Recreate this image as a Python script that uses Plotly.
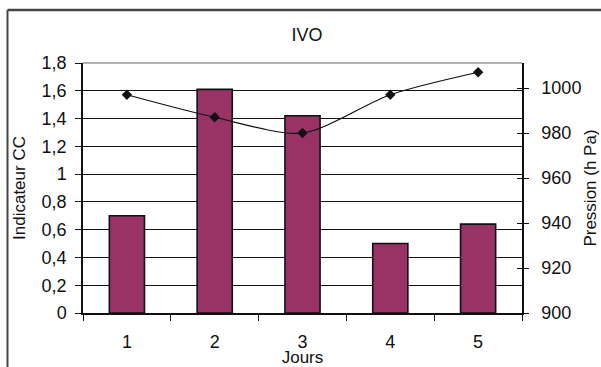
import plotly.graph_objects as go

# Daily CC indicator (bars, left axis) and pressure in hPa (line, right axis)
jours = ["1", "2", "3", "4", "5"]
indicateur_cc = [0.70, 1.61, 1.42, 0.50, 0.64]
pression = [997, 987, 980, 997, 1007]

W, H = 601, 367
L, R, T, B = 83, 79, 63, 54
pw, ph = W - L - R, H - T - B

def px_x(x):
    return (x - L) / pw

def px_y(y):
    return (H - B - y) / ph

font = dict(family="Liberation Sans, Arial, sans-serif", size=18, color="#111")

fig = go.Figure()
fig.add_trace(go.Bar(
    x=jours, y=indicateur_cc, yaxis="y",
    marker=dict(color="#993366", line=dict(color="#111", width=1.6)),
    width=0.4, showlegend=False,
))
fig.add_trace(go.Scatter(
    x=jours, y=pression, yaxis="y2", mode="lines+markers",
    line=dict(color="#111", width=1.2, shape="spline", smoothing=0.8),
    marker=dict(symbol="diamond", size=8, color="#111"),
    showlegend=False,
))
# invisible trace to carry the inner half of the right-hand tick marks
fig.add_trace(go.Scatter(x=jours, y=pression, yaxis="y3", mode="none",
                         showlegend=False, hoverinfo="skip"))

fig.update_layout(
    width=W, height=H,
    margin=dict(l=L, r=R, t=T, b=B, autoexpand=False),
    paper_bgcolor="white", plot_bgcolor="white",
    font=font,
    separators=", ",
    title=dict(text="IVO", x=px_x(307), xref="paper", xanchor="center",
               y=1 - 35 / H, yanchor="middle", font=dict(size=18)),
    xaxis=dict(
        type="category", tickson="boundaries", ticks="outside", ticklen=6,
        tickcolor="#111", showline=True, linecolor="#111", linewidth=1.5,
        showgrid=False, ticklabelstandoff=12,
        title=dict(text="Jours", standoff=0, font=dict(size=17)),
        range=[-0.5, 4.5],
    ),
    yaxis=dict(
        range=[0, 1.8], tickvals=[0, 0.2, 0.4, 0.6, 0.8, 1, 1.2, 1.4, 1.6, 1.8],
        showgrid=True, gridcolor="#111", gridwidth=1.3,
        ticks="outside", ticklen=6, tickcolor="#111", ticklabelstandoff=5,
        showline=True, linecolor="#111", linewidth=1.5, zeroline=False,
        title=dict(text="Indicateur CC", standoff=12, font=dict(size=17)),
    ),
    yaxis2=dict(
        range=[900, 900 + 250 / 2.25], dtick=20, overlaying="y", side="right",
        showgrid=False, ticks="outside", ticklen=5, tickcolor="#111",
        ticklabelstandoff=9,
        showline=True, linecolor="#111", linewidth=1.5, zeroline=False,
        title=dict(text="Pression (h Pa)", standoff=4, font=dict(size=17)),
    ),
    yaxis3=dict(
        range=[900, 900 + 250 / 2.25], dtick=20, overlaying="y", side="right",
        showgrid=False, ticks="inside", ticklen=5, tickcolor="#111",
        showticklabels=False, showline=False, zeroline=False,
    ),
    shapes=[
        # light top edge of the plot area
        dict(type="line", xref="paper", yref="paper", x0=0, x1=1, y0=1, y1=1,
             line=dict(color="#999", width=1.5)),
        # outer frame
        dict(type="line", xref="paper", yref="paper",
             x0=px_x(7.5), x1=px_x(610), y0=px_y(10), y1=px_y(10),
             line=dict(color="#444", width=2.5)),
        dict(type="line", xref="paper", yref="paper",
             x0=px_x(7.5), x1=px_x(7.5), y0=px_y(10), y1=px_y(372),
             line=dict(color="#444", width=2)),
    ],
)

fig.write_html("out.html")
